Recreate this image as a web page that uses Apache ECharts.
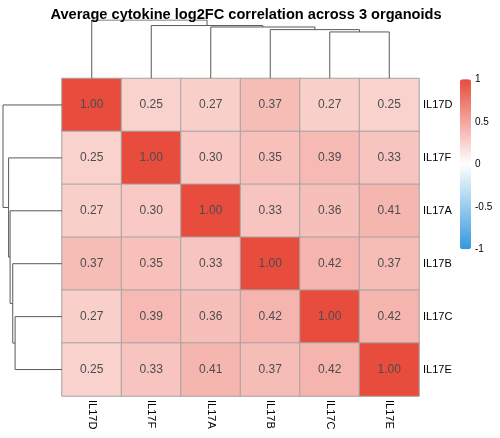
<!DOCTYPE html>
<html>
<head>
<meta charset="utf-8">
<script src="https://cdn.jsdelivr.net/npm/echarts@6/dist/echarts.min.js"></script>
<style>html,body{margin:0;padding:0;background:#fff;}#c{width:500px;height:438px;}</style>
</head>
<body>
<div id="c"></div>
<script>
// ---- data ----
var genes = ['IL17D', 'IL17F', 'IL17A', 'IL17B', 'IL17C', 'IL17E'];
var corrIL17D = [1.00, 0.25, 0.27, 0.37, 0.27, 0.25];
var corrIL17F = [0.25, 1.00, 0.30, 0.35, 0.39, 0.33];
var corrIL17A = [0.27, 0.30, 1.00, 0.33, 0.36, 0.41];
var corrIL17B = [0.37, 0.35, 0.33, 1.00, 0.42, 0.37];
var corrIL17C = [0.27, 0.39, 0.36, 0.42, 1.00, 0.42];
var corrIL17E = [0.25, 0.33, 0.41, 0.37, 0.42, 1.00];
// hierarchical clustering merges: child is a gene name or (1-based) merge index
var mergeLeft  = ['IL17C', 'IL17B', 'IL17A', 'IL17F', 'IL17D'];
var mergeRight = ['IL17E', 1, 2, 3, 4];
var mergeHeight = [0.795, 0.835, 0.88, 0.905, 1.0];
var legendTicks = [-1, -0.5, 0, 0.5, 1];
var titleText = 'Average cytokine log2FC correlation across 3 organoids';

// ---- build ----
var rows = [corrIL17D, corrIL17F, corrIL17A, corrIL17B, corrIL17C, corrIL17E];
var heatData = [];
rows.forEach(function (r, i) {
  r.forEach(function (v, j) { heatData.push([j, i, v]); });
});

// dendrogram link geometry in data units (leaf position, height)
var nodePos = [], nodeH = [];
function childInfo(c) {
  if (typeof c === 'string') return { p: genes.indexOf(c) + 0.5, h: 0 };
  return { p: nodePos[c - 1], h: nodeH[c - 1] };
}
var links = [];
for (var k = 0; k < mergeLeft.length; k++) {
  var a = childInfo(mergeLeft[k]), b = childInfo(mergeRight[k]), H = mergeHeight[k];
  links.push({ a: a, b: b, H: H });
  nodePos.push((a.p + b.p) / 2);
  nodeH.push(H);
}
var topLinks = links.map(function (L) {
  return { coords: [[L.a.p, L.a.h], [L.a.p, L.H], [L.b.p, L.H], [L.b.p, L.b.h]] };
});
var leftLinks = links.map(function (L) {
  return { coords: [[L.a.h, L.a.p], [L.H, L.a.p], [L.H, L.b.p], [L.b.h, L.b.p]] };
});
var maxH = Math.max.apply(null, mergeHeight);

var FONT = 'Liberation Sans, Arial, Helvetica, sans-serif';
var lineStyle = { color: '#595959', width: 1, opacity: 1, curveness: 0 };

var chart = echarts.init(document.getElementById('c'), null, { renderer: 'canvas' });
chart.setOption({
  animation: false,
  backgroundColor: '#ffffff',
  textStyle: { fontFamily: FONT },
  title: {
    text: titleText,
    left: 241, top: 2, textAlign: 'center',
    textStyle: { fontSize: 14.6, fontWeight: 'bold', color: '#000', fontFamily: FONT }
  },
  grid: [
    { left: 62, top: 78.5, width: 357, height: 317.5 },
    { left: 62, top: 20, width: 357, height: 58.3 },
    { left: 3, top: 78.5, width: 59, height: 317.5 },
    { left: 460, top: 79.3, width: 11, height: 170 }
  ],
  xAxis: [
    { gridIndex: 0, type: 'category', data: genes, position: 'bottom',
      axisLine: { show: false }, axisTick: { show: false }, splitLine: { show: false },
      axisLabel: { rotate: -90, margin: 4, fontSize: 11, color: '#000', fontFamily: FONT } },
    { gridIndex: 1, type: 'value', min: 0, max: genes.length, show: false },
    { gridIndex: 2, type: 'value', min: 0, max: maxH, inverse: true, show: false },
    { gridIndex: 3, type: 'value', min: 0, max: 1, show: false }
  ],
  yAxis: [
    { gridIndex: 0, type: 'category', data: genes, inverse: true, position: 'right',
      axisLine: { show: false }, axisTick: { show: false }, splitLine: { show: false },
      axisLabel: { margin: 4, fontSize: 11, color: '#000', fontFamily: FONT } },
    { gridIndex: 1, type: 'value', min: 0, max: maxH, show: false },
    { gridIndex: 2, type: 'value', min: 0, max: genes.length, inverse: true, show: false },
    { gridIndex: 3, type: 'value', min: -1, max: 1, interval: 0.5, position: 'right',
      axisLine: { show: false }, axisTick: { show: false }, splitLine: { show: false },
      axisLabel: { margin: 4, fontSize: 10, color: '#000', fontFamily: FONT,
        customValues: legendTicks, formatter: function (v) { return String(v); } } }
  ],
  visualMap: {
    type: 'continuous', seriesIndex: 0, min: -1, max: 1,
    calculable: false, text: null, showLabel: false,
    left: 460, top: 79.3, itemWidth: 11, itemHeight: 170, padding: 0,
    inRange: { color: ['#3498DB', '#FFFFFF', '#E74C3C'] }
  },
  series: [
    { type: 'heatmap', xAxisIndex: 0, yAxisIndex: 0, data: heatData,
      itemStyle: { borderColor: '#A3A3A3', borderWidth: 1 },
      label: { show: true, fontSize: 12, color: '#4D4D4D', fontFamily: FONT,
        formatter: function (p) { return p.value[2].toFixed(2); } },
      emphasis: { disabled: true } },
    { type: 'lines', coordinateSystem: 'cartesian2d', xAxisIndex: 1, yAxisIndex: 1,
      polyline: true, data: topLinks, lineStyle: lineStyle, silent: true },
    { type: 'lines', coordinateSystem: 'cartesian2d', xAxisIndex: 2, yAxisIndex: 2,
      polyline: true, data: leftLinks, lineStyle: lineStyle, silent: true }
  ]
});
</script>
</body>
</html>
